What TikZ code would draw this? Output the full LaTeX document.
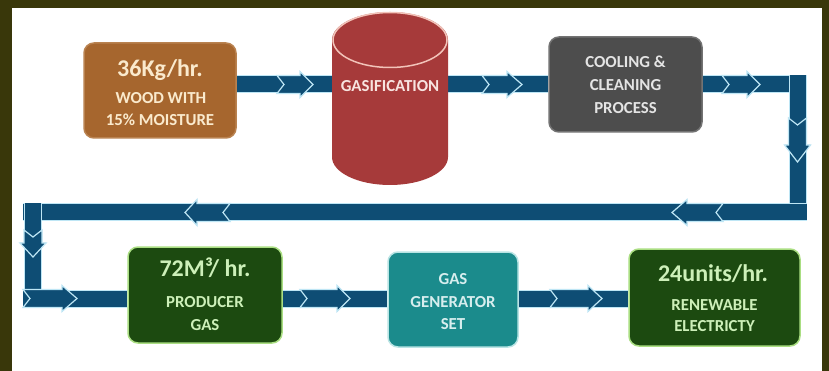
\documentclass[tikz,border=0pt]{standalone}
\usepackage{fontspec}
\setmainfont{Carlito}
\definecolor{olive}{RGB}{57,55,10}
\definecolor{arrowblue}{RGB}{14,77,116}
\definecolor{arrowedge}{RGB}{190,230,245}
\definecolor{brownfill}{RGB}{166,102,46}
\definecolor{brownedge}{RGB}{185,130,80}
\definecolor{creamtext}{RGB}{250,234,205}
\definecolor{grayfill}{RGB}{77,77,77}
\definecolor{grayedge}{RGB}{115,115,115}
\definecolor{graytext}{RGB}{228,228,228}
\definecolor{greenfill}{RGB}{28,74,16}
\definecolor{greenedge}{RGB}{170,222,130}
\definecolor{greentext}{RGB}{205,240,185}
\definecolor{tealfill}{RGB}{27,139,140}
\definecolor{tealedge}{RGB}{185,228,228}
\definecolor{tealtext}{RGB}{215,238,238}
\definecolor{redfill}{RGB}{166,58,58}
\definecolor{rededge}{RGB}{242,195,185}
\definecolor{redtext}{RGB}{248,228,224}
\pgfdeclarelayer{bg}
\pgfdeclarelayer{bars}
\pgfsetlayers{bg,bars,main}
\tikzset{
  box/.style={rounded corners=10pt, line width=1.5pt, inner sep=0pt},
  big/.style={font=\fontsize{24}{28}\selectfont\bfseries, anchor=base, inner sep=0pt},
  small/.style={font=\fontsize{16.8}{20}\selectfont\bfseries, anchor=base, inner sep=0pt},
  bar/.style={draw=arrowedge, double=arrowblue, double distance=16pt, line width=1pt},
  chevstyle/.style={fill=arrowblue, draw=arrowedge, line width=1.2pt, line join=miter},
  pics/chev/.style 2 args={code={
    \draw[chevstyle] (0,9) -- (#1,9) -- (#1,13) -- ({#1+#2},0) -- (#1,-13) -- (#1,-9) -- (0,-9) -- (7,0) -- cycle;}}
}
\begin{document}
\begin{tikzpicture}[x=1pt,y=-1pt]
\useasboundingbox (0,0) rectangle (829,371);
\begin{pgfonlayer}{bg}
\fill[olive] (0,0) rectangle (829,371);
\fill[white] (12,8) rectangle (822,371);
\end{pgfonlayer}

% row levels and corners
\coordinate (r1) at (0,84.5);
\coordinate (r3) at (0,298.5);
\coordinate (ne) at (807,84.5);
\coordinate (vtop) at (797.5,75.5);
\coordinate (vbot) at (797.5,221.5);
\coordinate (rs) at (806.5,212.5);
\coordinate (rl) at (23,212.5);
\coordinate (lvt) at (33,203.5);
\coordinate (lvb) at (33,307.5);
\coordinate (bl) at (23,298.5);

% boxes
\node[box, fill=brownfill, draw=brownedge, minimum width=152pt, minimum height=95pt] (b1) at (160,90.5) {};
\node[box, fill=grayfill, draw=grayedge, minimum width=153pt, minimum height=95pt] (b3) at (625.5,84.5) {};
\node[box, fill=greenfill, draw=greenedge, minimum width=154pt, minimum height=96pt] (b4) at (205,295) {};
\node[box, fill=tealfill, draw=tealedge, minimum width=130pt, minimum height=95pt] (b5) at (453,299.5) {};
\node[box, fill=greenfill, draw=greenedge, minimum width=171pt, minimum height=97pt] (b6) at (714.5,297.5) {};

% cylinder
\fill[redfill] (332,40) -- (332,157)
  arc[start angle=180, end angle=360, x radius=58pt, y radius=28pt]
  -- (448,40)
  arc[start angle=0, end angle=180, x radius=58pt, y radius=28pt] -- cycle;
\draw[rededge, line width=1.5pt] (390,40) ellipse [x radius=57pt, y radius=27.5pt];
\node[small, text=redtext, minimum width=116pt] (cyl) at (390,92) {GASIFICATION};

% connectors
\begin{pgfonlayer}{bars}
\draw[bar] (b1.east |- r1) -- (cyl.west |- r1);
\draw[bar] (cyl.east |- r1) -- (b3.west |- r1);
\draw[bar] (b3.east |- r1) -- (ne);
\draw[bar] (vtop) -- (vbot);
\draw[bar] (rs) -- (rl);
\draw[bar] (lvt) -- (lvb);
\draw[bar] (bl) -- (b4.west |- r3);
\draw[bar] (b4.east |- r3) -- (b5.west |- r3);
\draw[bar] (b5.east |- r3) -- (b6.west |- r3);
\pic at (277,84.5) {chev={23}{13}};
\pic at (482,84.5) {chev={25}{15}};
\pic at (722,84.5) {chev={25}{13}};
\pic[rotate=-90] at (797.5,118) {chev={27}{17}};
\pic[rotate=180] at (723,212.5) {chev={36}{15}};
\pic[rotate=180] at (230,212.5) {chev={33}{12}};
\pic[rotate=-90] at (33,230) {chev={13}{14}};
\pic at (23,298.5) {chev={39}{15}};
\pic at (300,298.5) {chev={37}{13}};
\pic at (550,298.5) {chev={38}{14}};
\end{pgfonlayer}

% texts
\node[big, text=creamtext] (b1a) at (160,77) {36Kg/hr.};
\node[small, text=creamtext] (b1b) at (161,104) {WOOD WITH};
\node[small, text=creamtext] (b1c) at (160,126) {15\% MOISTURE};

\node[small, text=graytext] (b3a) at (625.5,68) {COOLING \&};
\node[small, text=graytext] (b3b) at (625.5,91) {CLEANING};
\node[small, text=graytext] (b3c) at (625.5,114) {PROCESS};

\node[big, text=greentext] (b4a) at (205,276) {72M³/ hr.};
\node[small, text=greentext] (b4b) at (205,307) {PRODUCER};
\node[small, text=greentext] (b4c) at (205,330) {GAS};

\node[small, text=tealtext] (b5a) at (453,284) {GAS};
\node[small, text=tealtext] (b5b) at (453,307) {GENERATOR};
\node[small, text=tealtext] (b5c) at (453,329) {SET};

\node[big, text=greentext] (b6a) at (713,281) {24units/hr.};
\node[small, text=greentext] (b6b) at (714.5,310) {RENEWABLE};
\node[small, text=greentext] (b6c) at (714.5,331) {ELECTRICTY};
\end{tikzpicture}
\end{document}
